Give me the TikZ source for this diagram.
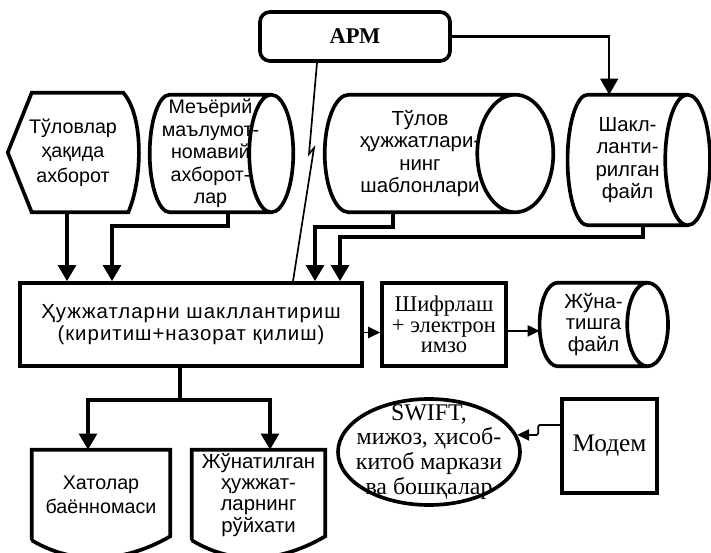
\documentclass[tikz,border=0pt]{standalone}
\usepackage{fontspec}
\setmainfont{Liberation Serif}
\newfontfamily\uzsans{Liberation Sans}
\newfontfamily\uzwide[LetterSpace=5]{Liberation Sans}
\usepackage{xcolor}
\usepackage{tikz}
\usetikzlibrary{arrows.meta, positioning, calc, shapes.geometric}

% horizontal drum: node name, left radius, right radius
\newcommand\drumline[3]{%
  \draw[line width=2.6pt] let \p1=(#1.north west), \p2=(#1.south east), \n1={(\y1-\y2)/2} in
    (\x2,\y1) -- (\x1+#2,\y1) arc[start angle=90, end angle=270, x radius=#2, y radius=\n1]
    -- (\x2,\y2) (#1.east) ellipse[x radius=#3, y radius=\n1];}
% sheet with wavy lower edge
\newcommand\pageline[1]{%
  \draw[line width=2.6pt] (#1.south west) -- (#1.north west) -- (#1.north east) -- ([yshift=1mm]#1.south east)
    .. controls ([xshift=-12mm,yshift=-6mm]#1.south east) and ([xshift=10mm,yshift=-6mm]#1.south west) .. (#1.south west);}

\begin{document}
\begin{tikzpicture}[
    font=\uzsans\fontsize{14}{17.5}\selectfont,
    box/.style={draw, line width=2.6pt, inner sep=0pt, align=center},
    hold/.style={inner sep=0pt, align=center},
    arr/.style={line width=2.6pt, -{Triangle[length=4mm, width=4.4mm]}},
    midarr/.style={line width=1.8pt, -{Triangle[length=4mm, width=4.4mm]}},
    thinarr/.style={line width=1.2pt, -{Triangle[length=3mm, width=2.8mm]}},
    serif/.style={font=\rmfamily\fontsize{16}{18}\selectfont}
  ]
    \useasboundingbox (0,0) rectangle (17.775,13.825);

    \node[box, rounded corners=2.5mm, minimum width=4.75cm, minimum height=1.225cm,
      font=\rmfamily\bfseries\fontsize{16}{18}\selectfont] (apm) at (8.875,12.9125) {АРМ};

    \node[hold, minimum width=3.25cm, minimum height=2.975cm] (info) at (1.825,10.0125) {Тўловлар\\ҳақида\\ахборот};
    \draw[line width=2.6pt] (info.west) -- ([xshift=6mm]info.north west) -- ([xshift=-3.75mm]info.north east)
      .. controls ([xshift=1.5mm,yshift=-6mm]info.north east) and ([xshift=1mm,yshift=8mm]info.south east)
      .. ([xshift=-2.5mm]info.south east) -- ([xshift=6mm]info.south west) -- cycle;

    \node[hold, minimum width=3.025cm, minimum height=2.925cm, font=\uzsans\fontsize{14}{16}\selectfont] (norm) at (5.2625,9.9875)
      {Меъёрий\\маълумот-\\номавий\\ахборот-\\лар};
    \drumline{norm}{5mm}{5.5mm}
    \node[hold, minimum width=4.75cm, minimum height=2.925cm, font=\uzsans\fontsize{14.5}{16}\selectfont] (tpl) at (10.5,9.9875)
      {Тўлов\\ҳужжатлари-\\нинг\\шаблонлари};
    \drumline{tpl}{6mm}{9.5mm}
    \node[hold, minimum width=2.9875cm, minimum height=3.25cm, font=\uzsans\fontsize{14.5}{16}\selectfont] (fmt) at (15.69,9.825)
      {Шакл-\\ланти-\\рилган\\файл};
    \drumline{fmt}{5mm}{5.6mm}

    \node[box, minimum width=8.55cm, minimum height=2.075cm, font=\uzwide\fontsize{14.5}{16}\selectfont] (main) at (4.775,5.7125)
      {Ҳужжатларни шакллантириш\\(киритиш+назорат қилиш)};
    \node[box, minimum width=3.1cm, minimum height=2.075cm, font=\rmfamily\fontsize{16}{14.5}\selectfont] (sh) at (11.1,5.7125)
      {Шифрлаш\\+ электрон\\имзо};
    \node[hold, minimum width=2.6875cm, minimum height=2.075cm, font=\uzsans\fontsize{14.5}{15.6}\selectfont] (send) at (14.84,5.7125)
      {Жўна-\\тишга\\файл};
    \drumline{send}{4.5mm}{5.1mm}

    \node[hold, minimum width=3.45cm, minimum height=2.25cm] (err) at (2.525,1.45) {Хатолар\\баённомаси};
    \pageline{err}
    \node[hold, minimum width=3.325cm, minimum height=2.25cm, font=\uzsans\fontsize{14.5}{15}\selectfont] (list) at (6.4625,1.45)
      {Жўнатилган\\ҳужжат-\\ларнинг\\рўйхати};
    \pageline{list}

    \node[draw, ellipse, line width=2.6pt, minimum width=4.55cm, minimum height=2.65cm] (swift) at (10.725,2.525) {};
    \node[hold, font=\rmfamily\fontsize{17}{17.7}\selectfont] (swifttxt) at (swift.center)
      {SWIFT,\\мижоз, ҳисоб-\\китоб маркази\\ва бошқалар};
    \node[box, minimum width=2.375cm, minimum height=2.35cm, font=\rmfamily\fontsize{18}{20}\selectfont] (modem) at (15.2375,2.675) {Модем};

    \draw[midarr] (apm.east) -| ([xshift=-4.6mm]fmt.north);
    \coordinate (bolt1) at (7.725,9.975);
    \coordinate (bolt2) at (7.85,10.125);
    \draw[line width=1.2pt] ([xshift=-9.5mm]apm.south) -- (bolt1) -- (bolt2) -- ([xshift=25.5mm]main.north);

    \draw[arr] ([xshift=-1.5mm]info.south) -- ([xshift=-1.5mm]info.south |- main.north);
    \draw[arr] ([xshift=4.4mm]norm.south) -- ++(0,-0.35) -| ([xshift=-19.75mm]main.north);
    \draw[arr] ([xshift=-6.75mm]tpl.south) -- ++(0,-0.375) -| ([xshift=31mm]main.north);
    \draw[arr] ([xshift=3.85mm]fmt.south) -- ++(0,-0.3) -| ([xshift=37.25mm]main.north);

    \draw[thinarr] ([yshift=-2mm]main.east) -- ([yshift=-2mm]sh.west);
    \draw[thinarr] ([yshift=-1.6mm]sh.east) -- ([yshift=-1.6mm]send.west);

    \draw[line width=2.6pt] ([xshift=-2.75mm]main.south) -- ++(0,-0.8) coordinate (split);
    \draw[arr] (split) -| ([xshift=-3.25mm]err.north);
    \draw[arr] (split) -| ([xshift=2.875mm]list.north);

    \draw[thinarr, rounded corners=1pt] ([yshift=5.25mm]modem.west) -- ++(-0.55,0) -- ++(0,-0.25) -- (swift.11);
  \end{tikzpicture}
\end{document}
